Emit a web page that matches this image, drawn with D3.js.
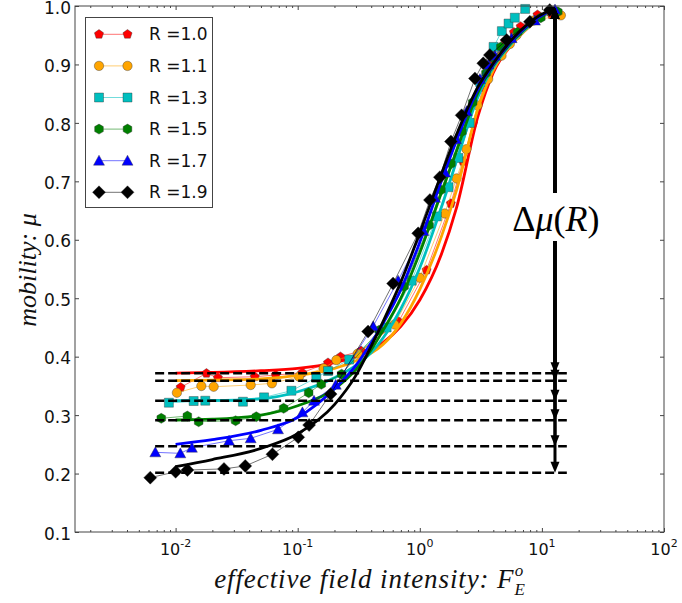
<!DOCTYPE html>
<html>
<head>
<meta charset="utf-8">
<script src="https://cdn.jsdelivr.net/npm/d3@7"></script>
<style>
  body { margin: 0; background: #fff; }
  svg { display: block; }
</style>
</head>
<body>
<svg width="682" height="603"></svg>
<script>
// ---- Data
const seriesLabels = ["R =1.0", "R =1.1", "R =1.3", "R =1.5", "R =1.7", "R =1.9"];
const seriesColors = ["#ff0000", "#ffa500", "#00bfbf", "#008000", "#0000ff", "#000000"];
const seriesShapes = ["pentagon", "circle", "square", "hexagon", "triangle", "diamond"];

// measured points [field, mobility]
const pointsR10 = [[0.011,0.3475],[0.0179,0.3715],[0.0222,0.364],[0.0445,0.3657],[0.066,0.3686],[0.109,0.3725],[0.177,0.3896],[0.224,0.3999],[0.33,0.41],[0.67,0.46],[1.135,0.548],[1.795,0.662],[2.26,0.734],[2.73,0.799],[3.3,0.86],[4.0,0.905],[5.0,0.94],[5.9,0.955],[6.7,0.965],[9.2,0.985],[12.0,0.985]];
const pointsR11 = [[0.01025,0.3383],[0.01625,0.3498],[0.0205,0.3486],[0.0412,0.3515],[0.0615,0.3544],[0.1026,0.3657],[0.163,0.38],[0.2074,0.3942],[0.31,0.405],[0.62,0.455],[1.0,0.535],[1.6,0.645],[2.0,0.705],[2.41,0.755],[2.97,0.83],[3.63,0.875],[4.67,0.915],[5.46,0.935],[6.19,0.95],[8.5,0.975],[14.3,0.984]];
const pointsR13 = [[0.00881,0.3212],[0.01406,0.3241],[0.0175,0.3246],[0.0356,0.3229],[0.053,0.3304],[0.0888,0.3417],[0.142,0.364],[0.177,0.3754],[0.264,0.395],[0.535,0.45],[0.858,0.53],[1.38,0.64],[1.72,0.69],[2.07,0.74],[2.56,0.8],[3.12,0.87],[4.02,0.93],[4.7,0.957],[5.33,0.97],[6.0,0.98],[7.3,0.995]];
const pointsR15 = [[0.00763,0.2945],[0.01248,0.2984],[0.01545,0.2887],[0.031,0.2904],[0.0458,0.2972],[0.0767,0.3116],[0.123,0.3383],[0.156,0.3527],[0.229,0.37],[0.464,0.445],[0.743,0.52],[1.19,0.625],[1.49,0.685],[1.8,0.73],[2.21,0.785],[2.71,0.835],[3.48,0.885],[4.07,0.91],[4.61,0.93],[6.32,0.955],[9.8,0.98],[13.5,0.99]];
const pointsR17 = [[0.00682,0.2363],[0.01093,0.2346],[0.0136,0.2442],[0.0274,0.2562],[0.0412,0.2603],[0.069,0.2757],[0.1093,0.3047],[0.136,0.3246],[0.205,0.352],[0.415,0.452],[0.664,0.53],[1.07,0.615],[1.33,0.672],[1.61,0.715],[1.98,0.772],[2.42,0.82],[3.11,0.875],[3.64,0.9],[4.13,0.915],[5.65,0.945],[8.77,0.975],[12.8,0.994]];
const pointsR19 = [[0.0062,0.193],[0.0100,0.203],[0.0125,0.206],[0.0249,0.208],[0.0372,0.213],[0.0621,0.233],[0.101,0.262],[0.124,0.283],[0.186,0.336],[0.377,0.443],[0.604,0.525],[0.97,0.611],[1.21,0.668],[1.46,0.707],[1.80,0.768],[2.20,0.813],[2.83,0.876],[3.31,0.902],[3.75,0.916],[5.14,0.942],[7.97,0.973],[11.6,0.993]];

// fitted curves, sampled on a common field grid
const fitField = [0.01,0.02,0.05,0.1,0.2,0.3,0.4,0.5,0.7,1.0,1.5,2.0,3.0,4.0,6.0,9.0,12.8];
const fitR10 = [0.372,0.373,0.376,0.380,0.390,0.400,0.411,0.424,0.452,0.497,0.575,0.655,0.812,0.886,0.940,0.975,0.997];
const fitR11 = [0.359,0.360,0.362,0.368,0.380,0.393,0.406,0.421,0.457,0.515,0.605,0.685,0.825,0.890,0.940,0.975,0.997];
const fitR13 = [0.3246,0.325,0.328,0.340,0.364,0.385,0.407,0.432,0.482,0.552,0.655,0.735,0.845,0.895,0.942,0.976,0.997];
const fitR15 = [0.2916,0.293,0.300,0.316,0.345,0.378,0.412,0.445,0.500,0.578,0.680,0.752,0.852,0.898,0.944,0.977,0.997];
const fitR17 = [0.250,0.258,0.274,0.296,0.345,0.385,0.424,0.457,0.515,0.596,0.700,0.770,0.858,0.900,0.946,0.978,0.997];
const fitR19 = [0.212,0.224,0.243,0.268,0.318,0.368,0.418,0.460,0.528,0.612,0.712,0.780,0.862,0.902,0.948,0.980,0.997];

// low-field plateaus (dashed) and the Delta-mu arrow
const plateauLevels = [0.3715, 0.3588, 0.3246, 0.2911, 0.2466, 0.2014];
const dashedRange = [0.0068, 16];
const arrowField = 12.8;
const arrowTop = 0.997;

const yTicks = [0.1, 0.2, 0.3, 0.4, 0.5, 0.6, 0.7, 0.8, 0.9, 1.0];
const xTickExponents = [-2, -1, 0, 1, 2];

const allPoints = [pointsR10, pointsR11, pointsR13, pointsR15, pointsR17, pointsR19];
const allFits = [fitR10, fitR11, fitR13, fitR15, fitR17, fitR19];

// ---- Layout
const svg = d3.select('svg');
const plot = { left: 75, right: 664, top: 6, bottom: 532 };

const x = d3.scaleLog().domain([0.0015, 100]).range([plot.left, plot.right]);
const y = d3.scaleLinear().domain([0.1, 1.0]).range([plot.bottom, plot.top]);

const frameColor = '#444';

// ---- Markers
function polygon(n, r, rot) {
    const pts = d3.range(n).map(i => {
        const a = rot + i * 2 * Math.PI / n;
        return [r * Math.cos(a), r * Math.sin(a)];
    });
    return 'M' + pts.map(p => p.join(',')).join('L') + 'Z';
}
function markerPath(shape) {
    switch (shape) {
        case 'pentagon': return polygon(5, 4.8, -Math.PI / 2);
        case 'hexagon': return polygon(6, 5, -Math.PI / 2);
        case 'circle': return d3.symbol(d3.symbolCircle, Math.PI * 4.7 * 4.7)();
        case 'square': return 'M-4.5,-4.5L4.5,-4.5L4.5,4.5L-4.5,4.5Z';
        case 'triangle': return 'M0,-5.5L5.5,4.5L-5.5,4.5Z';
        case 'diamond': return 'M0,-6.5L6.5,0L0,6.5L-6.5,0Z';
    }
}

// ---- Ticks (inward, on all four sides)
const minorTicks = [];
for (let e = -3; e <= 1; e++) {
    for (let k = 2; k <= 9; k++) {
        const v = k * Math.pow(10, e);
        if (v > 0.0015 && v < 100) minorTicks.push(v);
    }
}
const majorTicks = xTickExponents.map(e => Math.pow(10, e));

const axes = svg.append('g').attr('id', 'axes');

function addXAxis(axisFn, yPos, size, values) {
    axes.append('g')
        .attr('transform', `translate(0, ${yPos})`)
        .call(axisFn(x).tickValues(values).tickSize(size).tickSizeOuter(0).tickFormat(() => ''))
        .call(g => g.select('.domain').remove())
        .call(g => g.selectAll('line').attr('stroke', frameColor));
}
addXAxis(d3.axisBottom, plot.bottom, -4, majorTicks);
addXAxis(d3.axisBottom, plot.bottom, -2, minorTicks);
addXAxis(d3.axisTop, plot.top, -4, majorTicks);
addXAxis(d3.axisTop, plot.top, -2, minorTicks);

axes.append('g')
    .attr('transform', `translate(${plot.left}, 0)`)
    .call(d3.axisLeft(y).tickValues(yTicks).tickSize(-4).tickSizeOuter(0).tickPadding(4).tickFormat(d3.format('.1f')))
    .call(g => g.select('.domain').remove())
    .call(g => g.selectAll('line').attr('stroke', frameColor))
    .call(g => g.selectAll('text')
        .attr('dy', '0.42em')
        .attr('font-family', '"DejaVu Sans", sans-serif')
        .attr('font-size', 17)
        .attr('fill', '#111'));

axes.append('g')
    .attr('transform', `translate(${plot.right}, 0)`)
    .call(d3.axisRight(y).tickValues(yTicks).tickSize(-4).tickSizeOuter(0).tickFormat(() => ''))
    .call(g => g.select('.domain').remove())
    .call(g => g.selectAll('line').attr('stroke', frameColor));

// x tick labels: 10^n
const xLabels = axes.append('g')
    .attr('font-family', '"DejaVu Sans", sans-serif')
    .attr('fill', '#111');
xLabels.selectAll('text')
    .data(xTickExponents)
    .join('text')
    .attr('x', d => x(Math.pow(10, d)))
    .attr('y', 555)
    .attr('text-anchor', 'middle')
    .each(function (d) {
        const t = d3.select(this);
        t.append('tspan').attr('font-size', 16).text('10');
        t.append('tspan').attr('font-size', 11).attr('dy', -8).text(d < 0 ? '-' + (-d) : d);
    });

// ---- Series
const lineGen = d3.line().x(d => x(d[0])).y(d => y(d[1]));
const fitGen = d3.line().x(d => x(d[0])).y(d => y(d[1])).curve(d3.curveMonotoneX);

const series = svg.append('g').attr('id', 'series');
allPoints.forEach((pts, i) => {
    const g = series.append('g');
    g.append('path')
        .attr('d', lineGen(pts))
        .attr('fill', 'none')
        .attr('stroke', seriesColors[i])
        .attr('stroke-opacity', 0.55)
        .attr('stroke-width', 1);
    g.selectAll('path.mk')
        .data(pts)
        .join('path')
        .attr('class', 'mk')
        .attr('transform', d => `translate(${x(d[0])}, ${y(d[1])})`)
        .attr('d', markerPath(seriesShapes[i]))
        .attr('fill', seriesColors[i])
        .attr('stroke', '#333')
        .attr('stroke-width', 0.4);
    g.append('path')
        .attr('d', fitGen(fitField.map((f, j) => [f, allFits[i][j]])))
        .attr('fill', 'none')
        .attr('stroke', seriesColors[i])
        .attr('stroke-width', 2.8);
});

// ---- Dashed plateau lines
svg.append('g').selectAll('line')
    .data(plateauLevels)
    .join('line')
    .attr('x1', x(dashedRange[0]))
    .attr('x2', x(dashedRange[1]))
    .attr('y1', d => y(d))
    .attr('y2', d => y(d))
    .attr('stroke', '#000')
    .attr('stroke-width', 2.5)
    .attr('stroke-dasharray', '9,4');

// ---- Delta-mu arrows
const arrows = svg.append('g');
const ax = x(arrowField);
plateauLevels.forEach(level => {
    const yTop = y(arrowTop), yBot = y(level);
    arrows.append('line')
        .attr('x1', ax).attr('x2', ax)
        .attr('y1', yTop + 9).attr('y2', yBot - 9)
        .attr('stroke', '#000').attr('stroke-width', 3);
    arrows.append('path')
        .attr('d', `M${ax},${yBot}L${ax - 4.5},${yBot - 11}L${ax + 4.5},${yBot - 11}Z`)
        .attr('fill', '#000');
    arrows.append('path')
        .attr('d', `M${ax},${yTop}L${ax - 4.5},${yTop + 11}L${ax + 4.5},${yTop + 11}Z`)
        .attr('fill', '#000');
});
arrows.append('rect')
    .attr('x', ax - 52).attr('y', 193)
    .attr('width', 104).attr('height', 48)
    .attr('fill', '#fff');
const dmu = arrows.append('text')
    .attr('x', ax + 1).attr('y', 231)
    .attr('text-anchor', 'middle')
    .attr('font-family', '"Liberation Serif", serif')
    .attr('font-size', 36);
dmu.append('tspan').text('Δ');
dmu.append('tspan').attr('font-style', 'italic').text('μ');
dmu.append('tspan').text('(');
dmu.append('tspan').attr('font-style', 'italic').text('R');
dmu.append('tspan').text(')');

// ---- Frame
svg.append('rect')
    .attr('x', plot.left).attr('y', plot.top)
    .attr('width', plot.right - plot.left).attr('height', plot.bottom - plot.top)
    .attr('fill', 'none')
    .attr('stroke', frameColor)
    .attr('stroke-width', 1);

// ---- Legend
const legend = svg.append('g').attr('id', 'legend');
legend.append('rect')
    .attr('x', 85.5).attr('y', 17.5)
    .attr('width', 127).attr('height', 190)
    .attr('fill', '#fff')
    .attr('stroke', frameColor)
    .attr('stroke-width', 1);
seriesLabels.forEach((label, i) => {
    const ly = 34.3 + i * 31.6;
    const row = legend.append('g');
    row.append('line')
        .attr('x1', 99).attr('x2', 127.5)
        .attr('y1', ly).attr('y2', ly)
        .attr('stroke', seriesColors[i])
        .attr('stroke-opacity', 0.55)
        .attr('stroke-width', 1);
    [99, 127.5].forEach(mx => {
        row.append('path')
            .attr('transform', `translate(${mx}, ${ly})`)
            .attr('d', markerPath(seriesShapes[i]))
            .attr('fill', seriesColors[i])
            .attr('stroke', '#333')
            .attr('stroke-width', 0.4);
    });
    row.append('text')
        .attr('x', 149).attr('y', ly + 6)
        .attr('font-family', '"DejaVu Sans", sans-serif')
        .attr('font-size', 17)
        .attr('fill', '#111')
        .text(label);
});

// ---- Axis titles
const xTitle = svg.append('text')
    .attr('x', 370).attr('y', 588)
    .attr('text-anchor', 'middle')
    .attr('font-family', '"Liberation Serif", serif')
    .attr('font-style', 'italic')
    .attr('font-size', 27)
    .attr('letter-spacing', 0.9)
    .attr('fill', '#111');
xTitle.append('tspan').text('effective field intensity: F');
xTitle.append('tspan').attr('font-size', 17).attr('dy', 7).text('E');
xTitle.append('tspan').attr('font-size', 17).attr('dx', -11).attr('dy', -19).text('o');

svg.append('text')
    .attr('transform', 'translate(36, 270) rotate(-90)')
    .attr('text-anchor', 'middle')
    .attr('font-family', '"Liberation Serif", serif')
    .attr('font-style', 'italic')
    .attr('font-size', 26)
    .attr('fill', '#111')
    .text('mobility: μ');
</script>
</body>
</html>
